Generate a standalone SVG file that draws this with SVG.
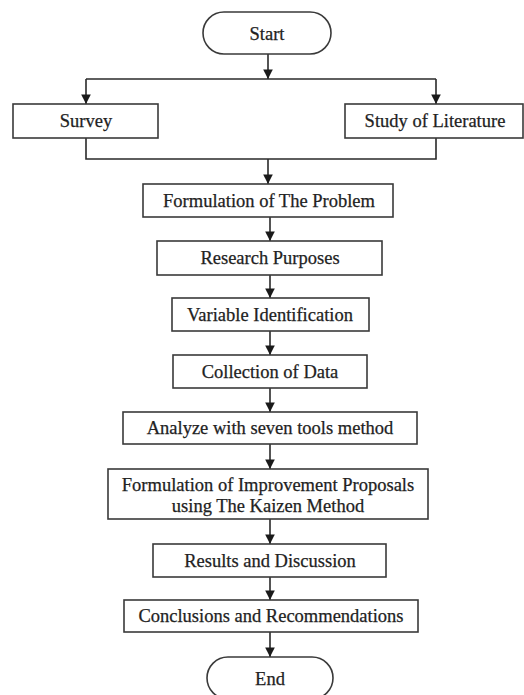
<svg xmlns="http://www.w3.org/2000/svg" width="524" height="695" viewBox="0 0 524 695">
<style>
.box{fill:#fff;stroke:#3a3a3a;stroke-width:1.6}
.t{font-family:"Liberation Serif","Times New Roman",serif;font-size:18.5px;fill:#222;stroke:#222;stroke-width:0.25;text-anchor:middle}
.c{fill:none;stroke:#2a2a2a;stroke-width:1.6}
</style>
<defs>
<marker id="ah" viewBox="0 0 10 10" refX="10" refY="5" markerWidth="6" markerHeight="6" orient="auto" markerUnits="strokeWidth">
<path d="M0,0 L10,5 L0,10 z" fill="#1a1a1a"/>
</marker>
</defs>
<rect width="524" height="695" fill="#fff"/>
<g id="connectors">
<path class="c" d="M268,54 V79" marker-end="url(#ah)"/>
<path class="c" d="M86,79 H436"/>
<path class="c" d="M86,79 V104" marker-end="url(#ah)"/>
<path class="c" d="M436,79 V104" marker-end="url(#ah)"/>
<path class="c" d="M86,138 V159 H436 V138"/>
<path class="c" d="M268,159 V184" marker-end="url(#ah)"/>
<path class="c" d="M270,217 V241" marker-end="url(#ah)"/>
<path class="c" d="M270,275 V298" marker-end="url(#ah)"/>
<path class="c" d="M270,331 V355" marker-end="url(#ah)"/>
<path class="c" d="M270,388 V412" marker-end="url(#ah)"/>
<path class="c" d="M270,444 V469" marker-end="url(#ah)"/>
<path class="c" d="M270,519 V544" marker-end="url(#ah)"/>
<path class="c" d="M270,577 V600" marker-end="url(#ah)"/>
<path class="c" d="M270,632 V657" marker-end="url(#ah)"/>
</g>
<g id="start"><rect class="box" x="203" y="12" width="128" height="42" rx="21"/><text class="t" x="267" y="40">Start</text></g>
<g id="survey"><rect class="box" x="13" y="104" width="145" height="34"/><text class="t" x="86" y="127">Survey</text></g>
<g id="literature"><rect class="box" x="345" y="104" width="178" height="34"/><text class="t" x="435" y="127">Study of Literature</text></g>
<g id="problem"><rect class="box" x="143" y="184" width="250" height="33"/><text class="t" x="269" y="207">Formulation of The Problem</text></g>
<g id="purposes"><rect class="box" x="157" y="241" width="225" height="34"/><text class="t" x="270" y="264">Research Purposes</text></g>
<g id="variable"><rect class="box" x="172" y="298" width="197" height="33"/><text class="t" x="270" y="321">Variable Identification</text></g>
<g id="collection"><rect class="box" x="173" y="355" width="194" height="33"/><text class="t" x="270" y="378">Collection of Data</text></g>
<g id="analyze"><rect class="box" x="123" y="412" width="294" height="32"/><text class="t" x="270" y="434">Analyze with seven tools method</text></g>
<g id="kaizen"><rect class="box" x="108" y="469" width="320" height="50"/><text class="t" x="268" y="491">Formulation of Improvement Proposals</text><text class="t" x="268" y="512">using The Kaizen Method</text></g>
<g id="results"><rect class="box" x="153" y="544" width="233" height="33"/><text class="t" x="270" y="567">Results and Discussion</text></g>
<g id="conclusions"><rect class="box" x="124" y="600" width="294" height="32"/><text class="t" x="271" y="622">Conclusions and Recommendations</text></g>
<g id="end"><rect class="box" x="207" y="657" width="126" height="42" rx="21"/><text class="t" x="270" y="685">End</text></g>
</svg>
